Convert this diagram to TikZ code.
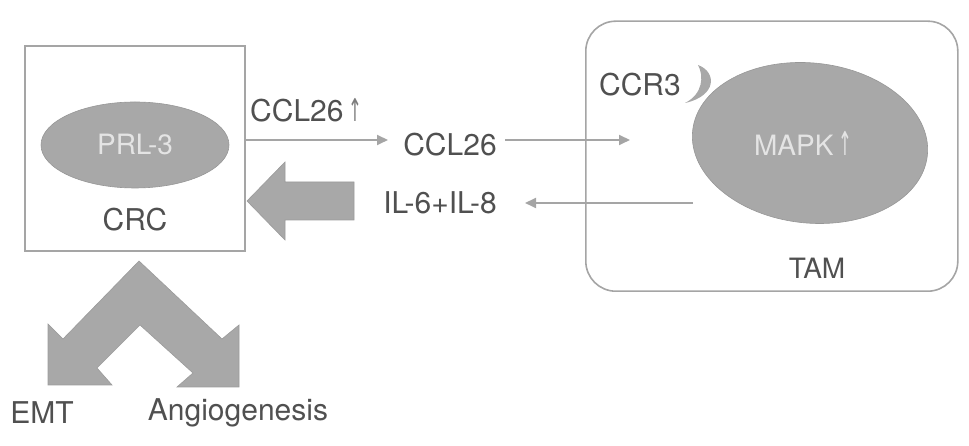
\documentclass[tikz,border=0pt]{standalone}
\usepackage{fontspec}
\usepackage{graphicx}
\setmainfont{TeX Gyre Heros}
\newfontfamily\symfont{DejaVu Sans}
\usetikzlibrary{arrows.meta,shapes.geometric}
\definecolor{txtgray}{RGB}{80,80,80}
\definecolor{fillgray}{RGB}{168,168,168}
\definecolor{linegray}{RGB}{165,165,165}
\definecolor{intxt}{RGB}{228,228,228}
\newcommand{\upar}{{\symfont\textcolor{txtgray!75}{\fontsize{30}{34}\selectfont\scalebox{0.55}[1.05]{↑}}}}
\newcommand{\upwhite}{{\symfont\textcolor{intxt}{\fontsize{30}{34}\selectfont\scalebox{0.55}[1.1]{↑}}}}
\tikzset{
  lbl/.style={text=txtgray, font=\fontsize{30}{34}\selectfont, inner sep=0pt},
  slbl/.style={text=txtgray, font=\fontsize{28}{32}\selectfont, inner sep=0pt},
  thinarrow/.style={draw=linegray, line width=1.8pt, -{Triangle[length=11pt,width=10pt]}},
  blob/.style={ellipse, fill=fillgray, draw=fillgray!90!black, line width=0.6pt, inner sep=0pt},
  bigarrow/.style={fill=fillgray, draw=fillgray!92!black, line width=0.6pt},
  boxframe/.style={draw=linegray, line width=1.6pt}
}
\begin{document}
\begin{tikzpicture}[x=1pt,y=1pt]
\useasboundingbox (0,0) rectangle (969,446);
% CRC box
\node[boxframe, minimum width=220pt, minimum height=205pt, anchor=south west, inner sep=0pt] (crc) at (24,194) {};
\node[blob, minimum width=188pt, minimum height=86pt] (prl) at (135,301) {};
\node[text=intxt, font=\fontsize{28}{32}\selectfont, inner sep=0pt] (prltxt) at (135,301) {PRL-3};
\node[lbl] (crclbl) at (135,226) {CRC};
% TAM box
\node[boxframe, rounded corners=30pt, minimum width=372pt, minimum height=270pt, anchor=south west, inner sep=0pt] (tam) at (585,154) {};
\node[blob, minimum width=236pt, minimum height=160pt, rotate=-6] (mapk) at (810,303) {};
\node[text=intxt, font=\fontsize{28}{32}\selectfont, inner sep=0pt] (mapktxt) at (803,303) {MAPK\,\upwhite};
\node[slbl] (tamlbl) at (817,178) {TAM};
\node[lbl] (ccr3) at (640,361) {CCR3};
% crescent receptor
\fill[fillgray] (698,381) .. controls (717,374) and (717,350) .. (685,343)
   .. controls (703,352) and (704,370) .. (698,381) -- cycle;
% CCL26 flow
\node[lbl, anchor=west] (ccl26up) at (250,336) {CCL26\,\upar};
\node[lbl] (ccl26) at (450,301) {CCL26};
\coordinate (a1s) at (244,306);
\coordinate (a1e) at (388,306);
\coordinate (a2s) at (505,306);
\coordinate (a2e) at (630,306);
\draw[thinarrow] (a1s) -- (a1e);
\draw[thinarrow] (a2s) -- (a2e);
% IL flow
\node[lbl] (il) at (440,243) {IL-6+IL-8};
\coordinate (b1s) at (693,243);
\coordinate (b1e) at (525,243);
\draw[thinarrow] (b1s) -- (b1e);
% big block arrow into CRC
\draw[bigarrow] (247,245) -- (285,284) -- (285,264) -- (354,264) -- (354,226) -- (285,226) -- (285,206) -- cycle;
% double chevron arrow
\draw[bigarrow] (139,185) -- (222,107) -- (239,121) -- (239,59) -- (177,59) -- (193,73) -- (140,121)
  -- (97,78) -- (112,61) -- (48,61) -- (48,122) -- (63,107) -- cycle;
\node[lbl] (emt) at (42,33) {EMT};
\node[lbl] (angio) at (238,33) {Angiogenesis};
\end{tikzpicture}
\end{document}
